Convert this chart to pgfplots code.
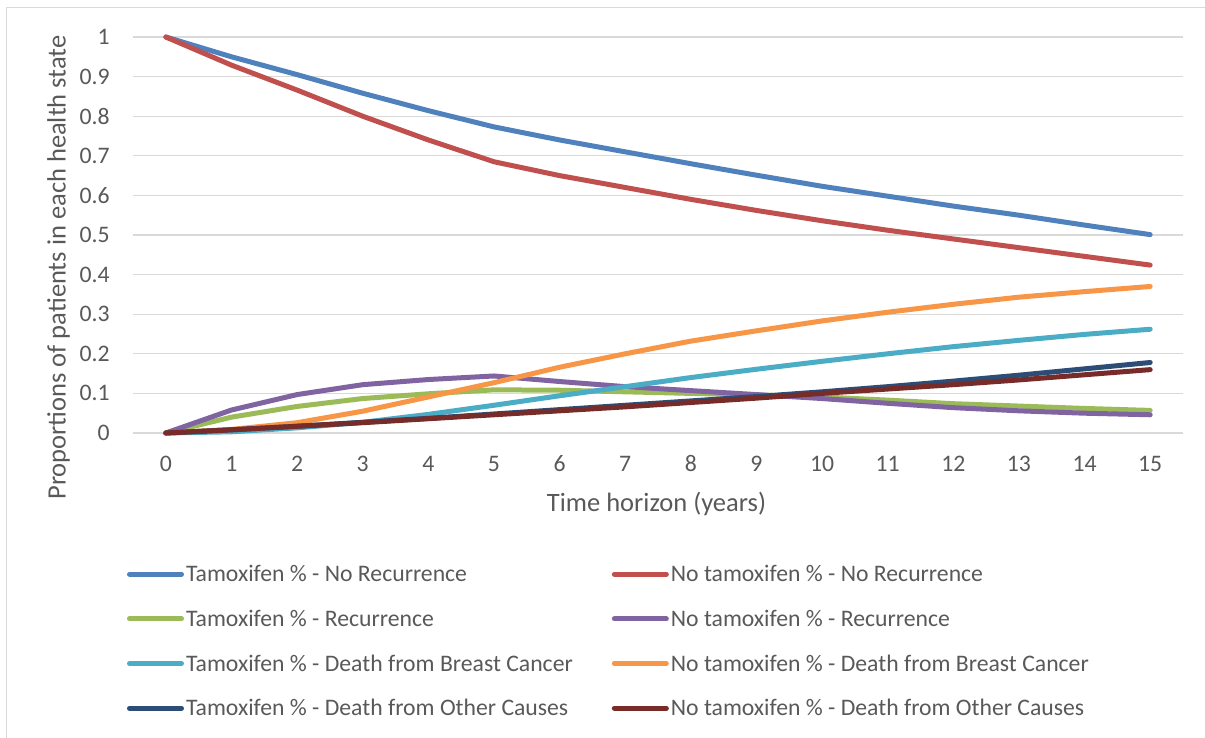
\documentclass[border=0pt]{standalone}
\usepackage{fontspec}
\setmainfont{Carlito}
\usepackage{pgfplots}
\usepackage{pgfplotstable}
\pgfplotsset{compat=1.18}
\definecolor{cA}{HTML}{4F81BD}
\definecolor{cB}{HTML}{C0504D}
\definecolor{cC}{HTML}{9BBB59}
\definecolor{cD}{HTML}{8064A2}
\definecolor{cE}{HTML}{4BACC6}
\definecolor{cF}{HTML}{F79646}
\definecolor{cG}{HTML}{2C4D75}
\definecolor{cH}{HTML}{772C2A}
\definecolor{txt}{HTML}{595959}
\definecolor{gridc}{HTML}{D9D9D9}
\newcommand{\smallf}{\fontsize{11.85}{14}\selectfont}
\newcommand{\titlef}{\fontsize{13.25}{16}\selectfont}
\pgfplotstableread{
x A B C D E F G H
0 1 1 0 0 0 0 0 0
1 0.950 0.929 0.040 0.058 0.003 0.009 0.008 0.008
2 0.905 0.866 0.067 0.097 0.013 0.026 0.017 0.017
3 0.858 0.800 0.087 0.122 0.027 0.055 0.027 0.026
4 0.814 0.740 0.099 0.135 0.047 0.091 0.037 0.036
5 0.773 0.685 0.109 0.144 0.070 0.127 0.048 0.046
6 0.740 0.650 0.108 0.130 0.094 0.166 0.059 0.056
7 0.710 0.620 0.104 0.117 0.117 0.200 0.070 0.066
8 0.680 0.590 0.100 0.107 0.140 0.232 0.081 0.077
9 0.651 0.562 0.096 0.097 0.161 0.258 0.092 0.088
10 0.623 0.536 0.091 0.087 0.181 0.283 0.104 0.100
11 0.598 0.512 0.083 0.075 0.200 0.305 0.117 0.111
12 0.573 0.490 0.074 0.064 0.218 0.325 0.131 0.122
13 0.550 0.468 0.068 0.056 0.234 0.343 0.146 0.134
14 0.525 0.446 0.062 0.050 0.249 0.357 0.162 0.147
15 0.501 0.424 0.057 0.046 0.262 0.370 0.178 0.160
}\datatable
\begin{document}
\begin{tikzpicture}
\useasboundingbox (0pt,0pt) rectangle (602.5pt,369pt);
\draw[draw=gridc, line width=0.75pt] (3.25pt,0pt) -- (3.25pt,365.25pt) -- (602.5pt,365.25pt);
\begin{axis}[
  at={(66.5pt,152.5pt)}, anchor=south west,
  scale only axis, width=525pt, height=198pt,
  xmin=-0.5, xmax=15.5, ymin=0, ymax=1,
  axis line style={draw=none},
  xtick={0,1,...,15},
  ytick={0,0.1,0.2,0.3,0.4,0.5,0.6,0.7,0.8,0.9,1},
  yticklabels={0,0.1,0.2,0.3,0.4,0.5,0.6,0.7,0.8,0.9,1},
  major tick length=0pt,
  xmajorgrids=false,
  ymajorgrids=true,
  major grid style={draw=gridc, line width=0.65pt},
  /pgf/number format/assume math mode=true,
  tick label style={font=\smallf, text=txt},
  xticklabel style={anchor=center, yshift=-15.25pt, inner sep=0pt},
  yticklabel style={anchor=east, xshift=-11.5pt, inner sep=0pt},
  xlabel={Time horizon (years)},
  ylabel={Proportions of patients in each health state},
  every axis x label/.style={at={(axis description cs:0.4986,-0.179)}, anchor=center, font=\titlef, text=txt},
  every axis y label/.style={at={(axis description cs:-0.071,0.418)}, anchor=center, rotate=90, font=\titlef, text=txt},
  legend columns=2,
  legend cell align=left,
  legend style={
    at={(axis description cs:-0.0057,-0.322)}, anchor=north west,
    draw=none, fill=none, inner sep=0pt, outer sep=0pt,
    font=\smallf, text=txt,
    nodes={inner sep=0pt, text height=10.6pt, text depth=3pt},
    row sep=8.75pt,
    /tikz/every odd column/.append style={column sep=1pt},
    /tikz/every even column/.append style={column sep=19.5pt},
  },
  legend image code/.code={\draw[#1, line cap=round] (0pt,0pt) -- (26pt,0pt);},
  every axis plot/.append style={line width=2.5pt, line cap=round, line join=round, no markers},
  clip=false,
]
\addplot[cA] table[x=x,y=A]{\datatable};
\addlegendentry{Tamoxifen \% - No Recurrence}
\addplot[cB] table[x=x,y=B]{\datatable};
\addlegendentry{No tamoxifen \% - No Recurrence}
\addplot[cC] table[x=x,y=C]{\datatable};
\addlegendentry{Tamoxifen \% - Recurrence}
\addplot[cD] table[x=x,y=D]{\datatable};
\addlegendentry{No tamoxifen \% - Recurrence}
\addplot[cE] table[x=x,y=E]{\datatable};
\addlegendentry{Tamoxifen \% - Death from Breast Cancer}
\addplot[cF] table[x=x,y=F]{\datatable};
\addlegendentry{No tamoxifen \% - Death from Breast Cancer}
\addplot[cG] table[x=x,y=G]{\datatable};
\addlegendentry{Tamoxifen \% - Death from Other Causes}
\addplot[cH] table[x=x,y=H]{\datatable};
\addlegendentry{No tamoxifen \% - Death from Other Causes}
\end{axis}
\end{tikzpicture}
\end{document}
